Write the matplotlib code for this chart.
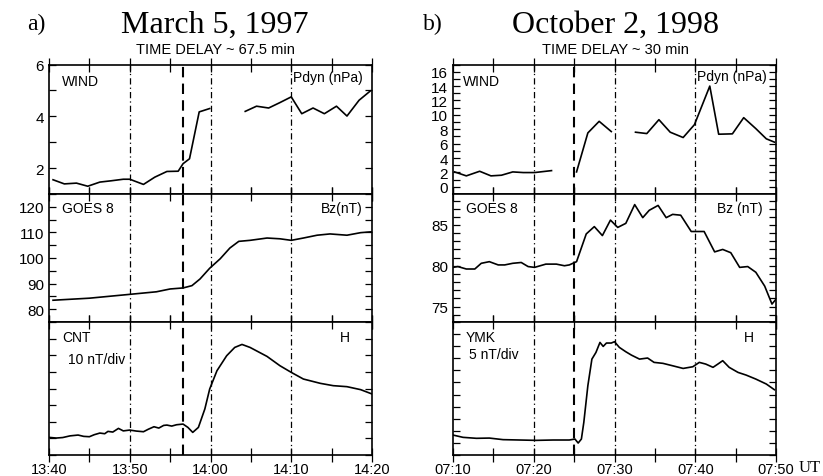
import numpy as np
import matplotlib
matplotlib.use('Agg')
import matplotlib.pyplot as plt
from matplotlib.ticker import MultipleLocator

plt.rcParams['font.family'] = 'Liberation Sans'

# ---- March 5, 1997 (minutes after 13:40) ----
a_tick_labels = ['13:40', '13:50', '14:00', '14:10', '14:20']
a_pdyn_t1 = [0.5, 1.9, 3.4, 4.8, 6.3, 7.7, 9.2, 10.0, 11.7, 13.1, 14.6, 16.0, 16.6, 17.4, 18.6, 19.9]
a_pdyn_v1 = [1.55, 1.39, 1.42, 1.30, 1.46, 1.51, 1.57, 1.57, 1.37, 1.65, 1.87, 1.88, 2.17, 2.36, 4.17, 4.30]
a_pdyn_t2 = [24.3, 25.7, 27.2, 28.6, 30.0, 31.3, 32.7, 34.1, 35.6, 36.9, 38.4, 39.8]
a_pdyn_v2 = [4.19, 4.39, 4.32, 4.53, 4.75, 4.10, 4.32, 4.10, 4.39, 4.01, 4.62, 4.98]
a_bz_t = [0.5, 5.0, 10.0, 13.3, 15.0, 16.6, 17.7, 18.7, 19.9, 21.2, 22.4, 23.5, 24.9,
          27.0, 28.6, 30.0, 31.5, 33.2, 34.8, 36.9, 38.6, 39.8, 40.0]
a_bz_v = [83.5, 84.3, 85.8, 86.8, 87.9, 88.3, 89.2, 91.8, 96.0, 99.7, 103.9, 106.5, 106.9,
          107.8, 107.5, 106.9, 107.8, 108.9, 109.4, 108.9, 109.9, 110.2, 110.2]
a_h_t = [0.0, 0.9, 1.7, 2.6, 3.6, 4.3, 5.0, 5.6, 6.3, 6.9, 7.3, 7.9, 8.6, 9.2, 10.0, 10.8,
         11.7, 12.3, 13.0, 13.6, 14.2, 14.6, 15.2, 15.8, 16.6, 17.2, 17.8, 18.5, 19.3,
         19.9, 20.8, 22.0, 23.0, 23.9, 24.9, 27.0, 28.6, 30.0, 31.5, 33.6, 35.2, 36.9, 38.6, 40.0]
a_h_v = [1.06, 1.02, 1.05, 1.15, 1.20, 1.12, 1.10, 1.22, 1.32, 1.28, 1.42, 1.38, 1.60, 1.45,
         1.50, 1.44, 1.40, 1.55, 1.70, 1.62, 1.78, 1.80, 1.74, 1.82, 1.86, 1.66, 1.36, 1.66, 2.77,
         3.97, 5.07, 5.97, 6.47, 6.65, 6.47, 5.93, 5.37, 4.97, 4.57, 4.31, 4.17, 4.11, 3.93, 3.67]

# ---- October 2, 1998 (minutes after 07:10) ----
b_tick_labels = ['07:10', '07:20', '07:30', '07:40', '07:50']
b_pdyn_t1 = [0.2, 1.65, 3.3, 4.7, 6.0, 7.4, 8.7, 10.1, 12.2]
b_pdyn_v1 = [2.07, 1.52, 2.16, 1.52, 1.61, 2.07, 1.98, 1.98, 2.25]
b_pdyn_t2 = [15.3, 16.7, 18.1, 19.6]
b_pdyn_v2 = [2.07, 7.49, 9.10, 7.68]
b_pdyn_t3 = [22.6, 24.0, 25.5, 26.9, 28.5, 29.9, 31.8, 32.9, 34.6, 36.0, 37.5, 38.8, 39.8]
b_pdyn_v3 = [7.59, 7.40, 9.33, 7.59, 6.85, 8.64, 14.0, 7.31, 7.36, 9.61, 8.09, 6.67, 6.21]
b_bz_t = [0.0, 0.6, 1.65, 2.7, 3.5, 4.5, 5.6, 6.4, 7.4, 8.45, 9.3, 10.1, 11.5, 12.8, 13.8,
          14.4, 15.3, 16.5, 17.5, 18.5, 19.5, 20.4, 21.4, 22.5, 23.5, 24.3, 25.4, 26.4, 27.2,
          28.2, 29.5, 31.1, 32.4, 33.4, 34.4, 35.5, 36.5, 37.5, 38.6, 39.5, 40.0]
b_bz_v = [79.8, 79.9, 79.6, 79.6, 80.3, 80.5, 80.1, 80.1, 80.3, 80.4, 79.9, 79.8, 80.2,
          80.2, 80.0, 80.1, 80.5, 83.9, 84.8, 83.7, 85.6, 84.7, 85.2, 87.5, 85.9, 86.8, 87.4,
          85.9, 86.3, 86.2, 84.2, 84.2, 81.7, 82.0, 81.6, 79.8, 79.9, 79.2, 77.5, 75.3, 75.9]
b_h_t = [0.0, 1.24, 2.9, 4.5, 6.2, 8.25, 10.3, 12.4, 14.4, 15.1, 15.5, 15.9, 16.2, 16.7,
         17.2, 17.7, 18.2, 18.6, 19.0, 19.6, 20.0, 20.6, 21.4, 22.1, 23.1, 24.1, 24.9, 26.0,
         27.2, 28.5, 29.7, 30.5, 31.3, 32.2, 32.8, 33.4, 34.2, 35.3, 36.3, 37.5, 38.8, 39.8]
b_h_v = [1.65, 1.46, 1.38, 1.40, 1.27, 1.24, 1.21, 1.24, 1.24, 1.32, 0.99, 1.32, 2.70, 5.73,
         7.93, 8.48, 9.31, 8.98, 9.26, 9.26, 9.37, 8.90, 8.54, 8.26, 7.93, 8.02, 7.66, 7.58,
         7.38, 7.16, 7.30, 7.66, 7.52, 7.25, 7.52, 7.80, 7.25, 6.83, 6.61, 6.28, 5.87, 5.40]


def style_axis(ax, ylim, major, minor, labels=True):
    ax.set_xlim(0, 40)
    ax.set_ylim(*ylim)
    ax.xaxis.set_major_locator(MultipleLocator(10))
    ax.xaxis.set_minor_locator(MultipleLocator(5))
    if major is not None:
        ax.yaxis.set_major_locator(MultipleLocator(major))
        ax.yaxis.set_minor_locator(MultipleLocator(minor))
    ax.tick_params(which='both', direction='inout', top=True, right=True, labelsize=11)
    ax.tick_params(axis='x', which='both', length=10, width=0.9, pad=0, labelsize=10.5)
    ax.tick_params(axis='y', which='both', direction='in', length=5, width=0.9)
    if not labels:
        ax.set_yticklabels([])
    ax.tick_params(axis='x', labelbottom=False)
    for s in ax.spines.values():
        s.set_linewidth(1.2)


def vlines(ax, event):
    for t in [10, 20, 30]:
        ax.axvline(t, color='black', lw=0.9, ls=(0, (5, 2.5, 1, 2.5)))
    ax.axvline(event, color='black', lw=1.5, ls=(0, (5, 3)))


fig = plt.figure(figsize=(8.23, 4.77), dpi=100)

lefts = [49 / 823, 453 / 823]
width = 323 / 823
rows = [(195, 65.5), (323, 195), (456, 323)]
axes = []
for x0 in lefts:
    col = []
    for bot, top in rows:
        col.append(fig.add_axes([x0, 1 - bot / 477, width, (bot - top) / 477]))
    axes.append(col)

lw = 1.2
# panel a
ax1, ax2, ax3 = axes[0]
ax1.plot(a_pdyn_t1, a_pdyn_v1, color='black', lw=lw)
ax1.plot(a_pdyn_t2, a_pdyn_v2, color='black', lw=lw)
style_axis(ax1, (1, 6), 2, 1)
ax1.set_yticks([2, 4, 6])
ax2.plot(a_bz_t, a_bz_v, color='black', lw=lw)
style_axis(ax2, (75, 125), 10, 5)
ax2.set_yticks([80, 90, 100, 110, 120])
ax3.plot(a_h_t, a_h_v, color='black', lw=lw)
style_axis(ax3, (0, 8), 1, 1, labels=False)
ax3.tick_params(axis='x', labelbottom=True)
ax3.set_xticks([0, 10, 20, 30, 40])
ax3.set_xticklabels(a_tick_labels)
for ax in axes[0]:
    vlines(ax, 16.65)

# panel b
bx1, bx2, bx3 = axes[1]
bx1.plot(b_pdyn_t1, b_pdyn_v1, color='black', lw=lw)
bx1.plot(b_pdyn_t2, b_pdyn_v2, color='black', lw=lw)
bx1.plot(b_pdyn_t3, b_pdyn_v3, color='black', lw=lw)
style_axis(bx1, (-1, 17), 2, 1)
bx2.plot(b_bz_t, b_bz_v, color='black', lw=lw)
style_axis(bx2, (73.1, 88.8), 5, 1)
bx3.plot(b_h_t, b_h_v, color='black', lw=lw)
style_axis(bx3, (0, 11), 1, 1, labels=False)
bx3.tick_params(axis='x', labelbottom=True)
bx3.set_xticks([0, 10, 20, 30, 40])
bx3.set_xticklabels(b_tick_labels)
for ax in axes[1]:
    vlines(ax, 15.0)
bx1.set_yticks(np.arange(0, 17, 2))

# in-panel labels
fs = 10
ax1.text(0.04, 0.84, 'WIND', transform=ax1.transAxes, fontsize=fs)
ax1.text(0.97, 0.87, 'Pdyn (nPa)', transform=ax1.transAxes, fontsize=fs, ha='right')
ax2.text(0.04, 0.86, 'GOES 8', transform=ax2.transAxes, fontsize=fs)
ax2.text(0.97, 0.86, 'Bz(nT)', transform=ax2.transAxes, fontsize=fs, ha='right')
ax3.text(0.04, 0.86, 'CNT', transform=ax3.transAxes, fontsize=fs)
ax3.text(0.06, 0.69, '10 nT/div', transform=ax3.transAxes, fontsize=fs)
ax3.text(0.93, 0.86, 'H', transform=ax3.transAxes, fontsize=fs, ha='right')
bx1.text(0.03, 0.84, 'WIND', transform=bx1.transAxes, fontsize=fs)
bx1.text(0.97, 0.88, 'Pdyn (nPa)', transform=bx1.transAxes, fontsize=fs, ha='right')
bx2.text(0.04, 0.86, 'GOES 8', transform=bx2.transAxes, fontsize=fs)
bx2.text(0.96, 0.86, 'Bz (nT)', transform=bx2.transAxes, fontsize=fs, ha='right')
bx3.text(0.04, 0.86, 'YMK', transform=bx3.transAxes, fontsize=fs)
bx3.text(0.05, 0.73, '5 nT/div', transform=bx3.transAxes, fontsize=fs)
bx3.text(0.93, 0.86, 'H', transform=bx3.transAxes, fontsize=fs, ha='right')

# titles
serif = 'Liberation Serif'
fig.text(27 / 823, 1 - 24 / 477, 'a)', family=serif, fontsize=17, va='center')
fig.text(215 / 823, 1 - 25 / 477, 'March 5, 1997', family=serif, fontsize=23, ha='center', va='center')
fig.text(215 / 823, 1 - 50 / 477, 'TIME DELAY ~ 67.5 min', fontsize=10.5, ha='center', va='center')
fig.text(423 / 823, 1 - 24 / 477, 'b)', family=serif, fontsize=17, va='center')
fig.text(615 / 823, 1 - 25 / 477, 'October 2, 1998', family=serif, fontsize=23, ha='center', va='center')
fig.text(615 / 823, 1 - 50 / 477, 'TIME DELAY ~ 30 min', fontsize=10.5, ha='center', va='center')
fig.text(799 / 823, 1 - 468 / 477, 'UT', family=serif, fontsize=12, va='center')

fig.savefig('out.png', dpi=100)
